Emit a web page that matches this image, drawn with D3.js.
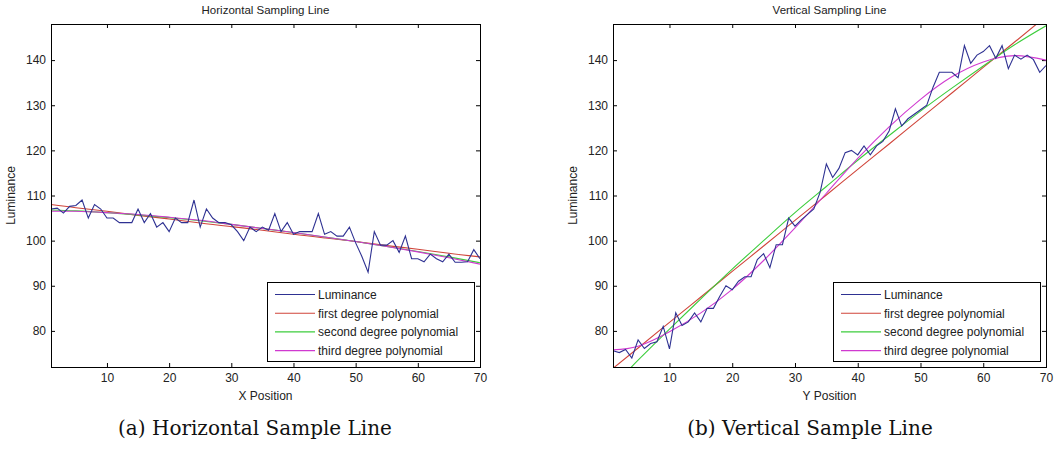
<!DOCTYPE html>
<html>
<head>
<meta charset="utf-8">
<script src="https://cdn.jsdelivr.net/npm/d3@7"></script>
<style>
  body { margin: 0; background: #fff; }
  svg { display: block; font-family: "Liberation Sans", Arial, sans-serif; }
  .tick text { font-size: 12px; fill: #222; }
  .tick line { stroke: #000; }
</style>
</head>
<body>
<div id="chart"></div>
<script>
// Sample positions along the line
const positions = d3.range(1, 71);
const fitPositions = [1, 5, 10, 15, 20, 25, 30, 35, 40, 45, 50, 55, 60, 65, 70];

const xTicks = [10, 20, 30, 40, 50, 60, 70];
const yTicks = [80, 90, 100, 110, 120, 130, 140];

const seriesNames = ["Luminance", "first degree polynomial", "second degree polynomial", "third degree polynomial"];

// Horizontal sampling line
const horizLuminance = [
  107, 107.2, 106.1, 107.6, 107.8, 109, 105, 108, 107, 105,
  105, 104, 104, 104, 107, 104, 106, 103, 104, 102,
  105, 104, 104, 109, 103, 107, 105, 104, 104, 103.5,
  102, 100, 103, 102, 103, 102.3, 106, 102, 104, 101.4,
  102, 102, 102, 106, 101.4, 102, 101, 101, 103, 99.5,
  96.5, 93, 102, 99, 99, 100, 97.4, 101, 96, 96,
  95.3, 97, 96, 95.3, 97, 95.2, 95.2, 95.3, 98, 96
];
const horizFirst  = [108.0, 107.3, 106.5, 105.6, 104.8, 103.9, 103.1, 102.3, 101.4, 100.6, 99.8, 98.9, 98.1, 97.2, 96.4];
const horizSecond = [106.8, 106.6, 106.2, 105.7, 105.1, 104.4, 103.6, 102.7, 101.8, 100.8, 99.8, 98.7, 97.6, 96.4, 95.1];
const horizThird  = [106.5, 106.5, 106.2, 105.8, 105.2, 104.5, 103.6, 102.7, 101.8, 100.8, 99.8, 98.7, 97.5, 96.2, 94.8];

// Vertical sampling line
const vertLuminance = [
  75.6, 75.2, 75.9, 74, 78, 76.1, 77.2, 77.6, 81, 76,
  84, 81.2, 82, 84, 82, 85, 85, 87.6, 90, 89.1,
  91, 92, 92, 95.8, 97.1, 94, 99.1, 99.1, 105, 103.2,
  104.6, 105.8, 107, 110.7, 117, 114, 116, 119.5, 120, 119,
  121, 119, 121, 122, 124.3, 129.2, 125.4, 127, 128, 129,
  130, 134, 137.3, 137.3, 137.3, 136.1, 143.2, 139.3, 141.1, 141.9,
  143.2, 140.4, 143.2, 138.1, 141.1, 140.2, 141.1, 140.1, 137.3, 138.8
];
const vertFirst  = [71.7, 76.2, 81.9, 87.5, 93.2, 98.8, 104.5, 110.1, 115.8, 121.4, 127.1, 132.7, 138.4, 144.0, 149.7];
const vertSecond = [67.8, 73.5, 80.4, 87.1, 93.7, 100.0, 106.2, 112.0, 117.8, 123.3, 128.7, 133.8, 138.7, 143.4, 147.6];
const vertThird  = [75.8, 76.6, 79.8, 84.0, 89.2, 95.6, 102.8, 110.5, 118.2, 125.2, 131.3, 136.3, 139.6, 141.0, 140.0];

const colors = ["#2e3192", "#d0443a", "#3ccd3c", "#d03ad0"];

const WIDTH = 1055, HEIGHT = 461;
const PLOT = { top: 24, bottom: 367 };

const svg = d3.select("#chart")
  .append("svg")
  .attr("width", WIDTH)
  .attr("height", HEIGHT);

svg.append("rect").attr("width", WIDTH).attr("height", HEIGHT).attr("fill", "#fff");

function drawPanel(p) {
  const x = d3.scaleLinear().domain([1, 70]).range([p.left, p.right]);
  const y = d3.scaleLinear().domain([72, 148]).range([PLOT.bottom, PLOT.top]);
  const g = svg.append("g");

  // clip so the fitted curves stop at the box
  g.append("clipPath").attr("id", p.id + "-clip")
    .append("rect")
    .attr("x", p.left).attr("y", PLOT.top)
    .attr("width", p.right - p.left).attr("height", PLOT.bottom - PLOT.top);

  // axes: ticks point inward on all four sides
  g.append("g")
    .attr("transform", `translate(0,${PLOT.bottom})`)
    .call(d3.axisBottom(x).tickValues(xTicks).tickSize(-4).tickPadding(6))
    .call(a => a.select(".domain").remove());
  g.append("g")
    .attr("transform", `translate(0,${PLOT.top})`)
    .call(d3.axisTop(x).tickValues(xTicks.slice(0, -1)).tickSize(-4).tickFormat(""))
    .call(a => a.select(".domain").remove());
  g.append("g")
    .attr("transform", `translate(${p.left},0)`)
    .call(d3.axisLeft(y).tickValues(yTicks).tickSize(-4).tickPadding(5))
    .call(a => a.select(".domain").remove());
  g.append("g")
    .attr("transform", `translate(${p.right},0)`)
    .call(d3.axisRight(y).tickValues(yTicks).tickSize(-4).tickFormat(""))
    .call(a => a.select(".domain").remove());

  const lines = g.append("g").attr("clip-path", `url(#${p.id}-clip)`);

  const fitLine = d3.line()
    .x((d, i) => x(fitPositions[i]))
    .y(d => y(d))
    .curve(d3.curveNatural);

  [p.first, p.second, p.third].forEach((s, k) => {
    lines.append("path")
      .datum(s)
      .attr("d", fitLine)
      .attr("fill", "none")
      .attr("stroke", colors[k + 1])
      .attr("stroke-width", 1.1);
  });

  lines.append("path")
    .datum(p.lum)
    .attr("d", d3.line().x((d, i) => x(positions[i])).y(d => y(d)))
    .attr("fill", "none")
    .attr("stroke", colors[0])
    .attr("stroke-width", 1.1);

  // box
  g.append("rect")
    .attr("x", p.left + 0.5).attr("y", PLOT.top + 0.5)
    .attr("width", p.right - p.left).attr("height", PLOT.bottom - PLOT.top)
    .attr("fill", "none").attr("stroke", "#000");

  // title and labels
  g.append("text")
    .attr("x", (p.left + p.right) / 2).attr("y", 14)
    .attr("text-anchor", "middle")
    .style("font-size", "11.5px").attr("fill", "#222")
    .text(p.title);
  g.append("text")
    .attr("x", (p.left + p.right) / 2).attr("y", 400)
    .attr("text-anchor", "middle")
    .style("font-size", "12px").attr("fill", "#222")
    .text(p.xLabel);
  g.append("text")
    .attr("transform", `translate(${p.left - 36},${(PLOT.top + PLOT.bottom) / 2}) rotate(-90)`)
    .attr("text-anchor", "middle")
    .style("font-size", "12px").attr("fill", "#222")
    .text("Luminance");

  // legend
  const lw = 207, lh = 79;
  const lx = p.right - 6 - lw, ly = PLOT.bottom - 6 - lh;
  const legend = g.append("g").attr("transform", `translate(${lx},${ly})`);
  legend.append("rect")
    .attr("x", 0.5).attr("y", 0.5)
    .attr("width", lw).attr("height", lh)
    .attr("fill", "#fff").attr("stroke", "#000");
  seriesNames.forEach((name, i) => {
    const ry = 12.5 + i * 18.7;
    legend.append("line")
      .attr("x1", 8).attr("x2", 48)
      .attr("y1", ry).attr("y2", ry)
      .attr("stroke", colors[i]).attr("stroke-width", 1.1);
    legend.append("text")
      .attr("x", 51).attr("y", ry + 4.3)
      .style("font-size", "12px").attr("fill", "#222")
      .text(name);
  });

  // caption under the figure
  svg.append("text")
    .attr("x", p.captionX).attr("y", 435)
    .attr("text-anchor", "middle")
    .style("font-family", "'DejaVu Serif', 'Liberation Serif', serif")
    .style("font-size", "20px").attr("fill", "#111")
    .text(p.caption);
}

drawPanel({
  id: "horiz", left: 51, right: 480,
  title: "Horizontal Sampling Line", xLabel: "X Position",
  lum: horizLuminance, first: horizFirst, second: horizSecond, third: horizThird,
  caption: "(a) Horizontal Sample Line", captionX: 255
});

drawPanel({
  id: "vert", left: 613, right: 1046,
  title: "Vertical Sampling Line", xLabel: "Y Position",
  lum: vertLuminance, first: vertFirst, second: vertSecond, third: vertThird,
  caption: "(b) Vertical Sample Line", captionX: 810
});
</script>
</body>
</html>
